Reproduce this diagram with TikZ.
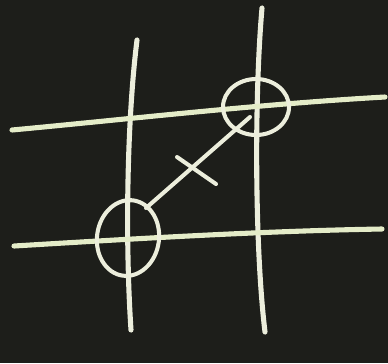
\documentclass[tikz,border=0pt]{standalone}
\usetikzlibrary{calc}
\definecolor{board}{HTML}{1D1E1A}
\definecolor{chalkw}{HTML}{ECEEDC}
\definecolor{chalkg}{HTML}{E4ECC8}
\tikzset{
  chalk/.style={draw=chalkw,line width=2.9pt,line cap=round},
  gline/.style={chalk,draw=chalkg},
  ring/.style={draw=chalkw,line width=2.3pt},
  slash/.style={draw=chalkw,line width=2.3pt,line cap=round}
}
\begin{document}
\begin{tikzpicture}[x=0.02cm,y=-0.02cm]
\fill[board] (0,0) rectangle (388,363);
\useasboundingbox (0,0) rectangle (388,363);
% grid lines
\draw[chalk] (137,40) .. controls (127,120) and (125,240) .. (131,330);
\draw[chalk] (262,8) .. controls (254,100) and (255,250) .. (265,332);
\draw[gline] (12,130) .. controls (130,119) and (260,104) .. (385,97);
\draw[gline] (14,246) .. controls (130,239) and (260,231) .. (382,229);
% circles
\coordinate (ctop) at (256,107);
\coordinate (cbot) at (128,238);
\draw[ring] (ctop) ellipse [x radius=33,y radius=28];
\draw[ring,rotate around={-8:(cbot)}] (cbot) ellipse [x radius=31,y radius=38];
% winning line and cross
\coordinate (ltop) at (250,117);
\coordinate (lbot) at (146,208);
\draw[slash] (lbot) -- (ltop);
\coordinate (xa) at (177,157);
\coordinate (xb) at (216,184);
\draw[slash] (xa) -- (xb);
\end{tikzpicture}
\end{document}
